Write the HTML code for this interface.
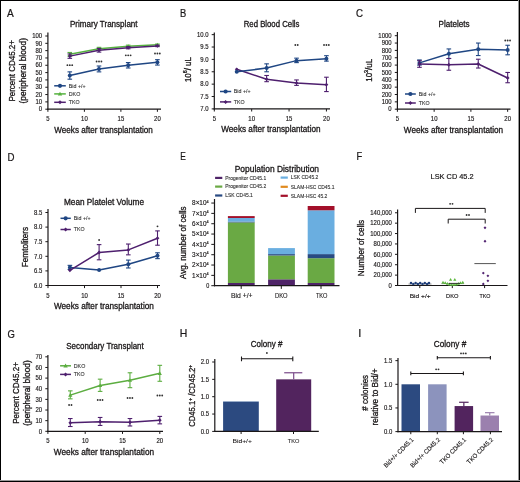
<!DOCTYPE html>
<html><head><meta charset="utf-8"><style>
html,body{margin:0;padding:0;background:#fff;}
body{width:520px;height:482px;overflow:hidden;position:relative;}
svg{will-change:transform;position:absolute;left:0;top:0;font-family:"Liberation Sans", sans-serif;}
</style></head><body>
<svg width="520" height="482" viewBox="0 0 520 482">
<rect x="0" y="0" width="520" height="482" fill="#fff"/>
<text x="7" y="17" font-size="11.0" text-anchor="start" fill="#1a1718" textLength="6.75" lengthAdjust="spacingAndGlyphs" stroke="#1a1718" stroke-width="0.22">A</text>
<text x="180" y="17" font-size="11.0" text-anchor="start" fill="#1a1718" textLength="6.24" lengthAdjust="spacingAndGlyphs" stroke="#1a1718" stroke-width="0.22">B</text>
<text x="356.1" y="16.8" font-size="11.0" text-anchor="start" fill="#1a1718" textLength="6.99" lengthAdjust="spacingAndGlyphs" stroke="#1a1718" stroke-width="0.22">C</text>
<text x="7.5" y="160.8" font-size="11.0" text-anchor="start" fill="#1a1718" textLength="6.99" lengthAdjust="spacingAndGlyphs" stroke="#1a1718" stroke-width="0.22">D</text>
<text x="180.2" y="160.3" font-size="11.0" text-anchor="start" fill="#1a1718" textLength="5.58" lengthAdjust="spacingAndGlyphs" stroke="#1a1718" stroke-width="0.22">E</text>
<text x="356.5" y="160.3" font-size="11.0" text-anchor="start" fill="#1a1718" textLength="5.71" lengthAdjust="spacingAndGlyphs" stroke="#1a1718" stroke-width="0.22">F</text>
<text x="7.5" y="337.5" font-size="11.0" text-anchor="start" fill="#1a1718" textLength="7.36" lengthAdjust="spacingAndGlyphs" stroke="#1a1718" stroke-width="0.22">G</text>
<text x="179.8" y="337.2" font-size="11.0" text-anchor="start" fill="#1a1718" textLength="7.55" lengthAdjust="spacingAndGlyphs" stroke="#1a1718" stroke-width="0.22">H</text>
<text x="358.3" y="337.2" font-size="11.0" text-anchor="start" fill="#1a1718" textLength="3.06" lengthAdjust="spacingAndGlyphs" stroke="#1a1718" stroke-width="0.22">I</text>
<text x="103.8" y="26.7584" font-size="8.6" text-anchor="middle" fill="#1a1718" textLength="67.6" lengthAdjust="spacingAndGlyphs" stroke="#1a1718" stroke-width="0.3">Primary Transplant</text>
<line x1="45.3" y1="109.2" x2="47.9" y2="109.2" stroke="#1a1718" stroke-width="1.0"/>
<text x="42.1" y="111.4016" font-size="6.4" text-anchor="end" fill="#1a1718" textLength="3.31" lengthAdjust="spacingAndGlyphs" stroke="#1a1718" stroke-width="0.15">0</text>
<line x1="45.3" y1="101.88" x2="47.9" y2="101.88" stroke="#1a1718" stroke-width="1.0"/>
<text x="42.1" y="104.0816" font-size="6.4" text-anchor="end" fill="#1a1718" textLength="6.62" lengthAdjust="spacingAndGlyphs" stroke="#1a1718" stroke-width="0.15">10</text>
<line x1="45.3" y1="94.56" x2="47.9" y2="94.56" stroke="#1a1718" stroke-width="1.0"/>
<text x="42.1" y="96.7616" font-size="6.4" text-anchor="end" fill="#1a1718" textLength="6.62" lengthAdjust="spacingAndGlyphs" stroke="#1a1718" stroke-width="0.15">20</text>
<line x1="45.3" y1="87.24000000000001" x2="47.9" y2="87.24000000000001" stroke="#1a1718" stroke-width="1.0"/>
<text x="42.1" y="89.44160000000001" font-size="6.4" text-anchor="end" fill="#1a1718" textLength="6.62" lengthAdjust="spacingAndGlyphs" stroke="#1a1718" stroke-width="0.15">30</text>
<line x1="45.3" y1="79.92" x2="47.9" y2="79.92" stroke="#1a1718" stroke-width="1.0"/>
<text x="42.1" y="82.1216" font-size="6.4" text-anchor="end" fill="#1a1718" textLength="6.62" lengthAdjust="spacingAndGlyphs" stroke="#1a1718" stroke-width="0.15">40</text>
<line x1="45.3" y1="72.6" x2="47.9" y2="72.6" stroke="#1a1718" stroke-width="1.0"/>
<text x="42.1" y="74.8016" font-size="6.4" text-anchor="end" fill="#1a1718" textLength="6.62" lengthAdjust="spacingAndGlyphs" stroke="#1a1718" stroke-width="0.15">50</text>
<line x1="45.3" y1="65.28" x2="47.9" y2="65.28" stroke="#1a1718" stroke-width="1.0"/>
<text x="42.1" y="67.4816" font-size="6.4" text-anchor="end" fill="#1a1718" textLength="6.62" lengthAdjust="spacingAndGlyphs" stroke="#1a1718" stroke-width="0.15">60</text>
<line x1="45.3" y1="57.96" x2="47.9" y2="57.96" stroke="#1a1718" stroke-width="1.0"/>
<text x="42.1" y="60.1616" font-size="6.4" text-anchor="end" fill="#1a1718" textLength="6.62" lengthAdjust="spacingAndGlyphs" stroke="#1a1718" stroke-width="0.15">70</text>
<line x1="45.3" y1="50.64" x2="47.9" y2="50.64" stroke="#1a1718" stroke-width="1.0"/>
<text x="42.1" y="52.8416" font-size="6.4" text-anchor="end" fill="#1a1718" textLength="6.62" lengthAdjust="spacingAndGlyphs" stroke="#1a1718" stroke-width="0.15">80</text>
<line x1="45.3" y1="43.32000000000001" x2="47.9" y2="43.32000000000001" stroke="#1a1718" stroke-width="1.0"/>
<text x="42.1" y="45.52160000000001" font-size="6.4" text-anchor="end" fill="#1a1718" textLength="6.62" lengthAdjust="spacingAndGlyphs" stroke="#1a1718" stroke-width="0.15">90</text>
<line x1="45.3" y1="36.0" x2="47.9" y2="36.0" stroke="#1a1718" stroke-width="1.0"/>
<text x="42.1" y="38.2016" font-size="6.4" text-anchor="end" fill="#1a1718" textLength="9.93" lengthAdjust="spacingAndGlyphs" stroke="#1a1718" stroke-width="0.15">100</text>
<line x1="47.9" y1="109.2" x2="47.9" y2="111.8" stroke="#1a1718" stroke-width="1.0"/>
<text x="47.9" y="121.2016" font-size="6.4" text-anchor="middle" fill="#1a1718" textLength="3.31" lengthAdjust="spacingAndGlyphs" stroke="#1a1718" stroke-width="0.15">5</text>
<line x1="84.4" y1="109.2" x2="84.4" y2="111.8" stroke="#1a1718" stroke-width="1.0"/>
<text x="84.4" y="121.2016" font-size="6.4" text-anchor="middle" fill="#1a1718" textLength="6.62" lengthAdjust="spacingAndGlyphs" stroke="#1a1718" stroke-width="0.15">10</text>
<line x1="120.9" y1="109.2" x2="120.9" y2="111.8" stroke="#1a1718" stroke-width="1.0"/>
<text x="120.9" y="121.2016" font-size="6.4" text-anchor="middle" fill="#1a1718" textLength="6.62" lengthAdjust="spacingAndGlyphs" stroke="#1a1718" stroke-width="0.15">15</text>
<line x1="157.4" y1="109.2" x2="157.4" y2="111.8" stroke="#1a1718" stroke-width="1.0"/>
<text x="157.4" y="121.2016" font-size="6.4" text-anchor="middle" fill="#1a1718" textLength="6.62" lengthAdjust="spacingAndGlyphs" stroke="#1a1718" stroke-width="0.15">20</text>
<line x1="47.9" y1="32.5" x2="47.9" y2="109.8" stroke="#1a1718" stroke-width="1.2"/>
<line x1="47.3" y1="109.2" x2="161" y2="109.2" stroke="#1a1718" stroke-width="1.2"/>
<text x="103.6" y="132.75" font-size="8.6" text-anchor="middle" fill="#1a1718" textLength="98.5" lengthAdjust="spacingAndGlyphs" stroke="#1a1718" stroke-width="0.3">Weeks after transplantation</text>
<text x="15.3" y="70.8" font-size="9.0" text-anchor="middle" fill="#1a1718" textLength="61.6" lengthAdjust="spacingAndGlyphs" transform="rotate(-90 15.3 70.8)" stroke="#1a1718" stroke-width="0.3">Percent CD45.2+</text>
<text x="26.2" y="70.8" font-size="8.6" text-anchor="middle" fill="#1a1718" textLength="65.5" lengthAdjust="spacingAndGlyphs" transform="rotate(-90 26.2 70.8)" stroke="#1a1718" stroke-width="0.3">(peripheral blood)</text>
<path d="M69.80 54.30 L99.00 48.81 L128.20 46.25 L157.40 44.78" stroke="#56b23f" stroke-width="1.5" fill="none" stroke-linejoin="round"/>
<line x1="69.8" y1="56.13" x2="69.8" y2="52.470000000000006" stroke="#56b23f" stroke-width="1.1"/>
<line x1="67.5" y1="56.13" x2="72.1" y2="56.13" stroke="#56b23f" stroke-width="1.1"/>
<line x1="67.5" y1="52.470000000000006" x2="72.1" y2="52.470000000000006" stroke="#56b23f" stroke-width="1.1"/>
<line x1="99.0" y1="50.274" x2="99.0" y2="47.346000000000004" stroke="#56b23f" stroke-width="1.1"/>
<line x1="96.7" y1="50.274" x2="101.3" y2="50.274" stroke="#56b23f" stroke-width="1.1"/>
<line x1="96.7" y1="47.346000000000004" x2="101.3" y2="47.346000000000004" stroke="#56b23f" stroke-width="1.1"/>
<line x1="128.2" y1="47.346000000000004" x2="128.2" y2="45.150000000000006" stroke="#56b23f" stroke-width="1.1"/>
<line x1="125.89999999999999" y1="47.346000000000004" x2="130.5" y2="47.346000000000004" stroke="#56b23f" stroke-width="1.1"/>
<line x1="125.89999999999999" y1="45.150000000000006" x2="130.5" y2="45.150000000000006" stroke="#56b23f" stroke-width="1.1"/>
<line x1="157.4" y1="45.516000000000005" x2="157.4" y2="44.05200000000001" stroke="#56b23f" stroke-width="1.1"/>
<line x1="155.1" y1="45.516000000000005" x2="159.70000000000002" y2="45.516000000000005" stroke="#56b23f" stroke-width="1.1"/>
<line x1="155.1" y1="44.05200000000001" x2="159.70000000000002" y2="44.05200000000001" stroke="#56b23f" stroke-width="1.1"/>
<path d="M69.8 52.2L71.89999999999999 55.87500000000001L67.7 55.87500000000001Z" fill="#56b23f"/>
<path d="M99.0 46.71L101.1 50.385000000000005L96.9 50.385000000000005Z" fill="#56b23f"/>
<path d="M128.2 44.148L130.29999999999998 47.82300000000001L126.1 47.82300000000001Z" fill="#56b23f"/>
<path d="M157.4 42.684000000000005L159.5 46.35900000000001L155.3 46.35900000000001Z" fill="#56b23f"/>
<path d="M69.80 56.13 L99.00 50.27 L128.20 47.71 L157.40 45.88" stroke="#4e1f6e" stroke-width="1.5" fill="none" stroke-linejoin="round"/>
<line x1="69.8" y1="58.326" x2="69.8" y2="53.934000000000005" stroke="#4e1f6e" stroke-width="1.1"/>
<line x1="67.5" y1="58.326" x2="72.1" y2="58.326" stroke="#4e1f6e" stroke-width="1.1"/>
<line x1="67.5" y1="53.934000000000005" x2="72.1" y2="53.934000000000005" stroke="#4e1f6e" stroke-width="1.1"/>
<line x1="99.0" y1="52.104000000000006" x2="99.0" y2="48.444" stroke="#4e1f6e" stroke-width="1.1"/>
<line x1="96.7" y1="52.104000000000006" x2="101.3" y2="52.104000000000006" stroke="#4e1f6e" stroke-width="1.1"/>
<line x1="96.7" y1="48.444" x2="101.3" y2="48.444" stroke="#4e1f6e" stroke-width="1.1"/>
<line x1="128.2" y1="48.81" x2="128.2" y2="46.614000000000004" stroke="#4e1f6e" stroke-width="1.1"/>
<line x1="125.89999999999999" y1="48.81" x2="130.5" y2="48.81" stroke="#4e1f6e" stroke-width="1.1"/>
<line x1="125.89999999999999" y1="46.614000000000004" x2="130.5" y2="46.614000000000004" stroke="#4e1f6e" stroke-width="1.1"/>
<line x1="157.4" y1="46.614000000000004" x2="157.4" y2="45.150000000000006" stroke="#4e1f6e" stroke-width="1.1"/>
<line x1="155.1" y1="46.614000000000004" x2="159.70000000000002" y2="46.614000000000004" stroke="#4e1f6e" stroke-width="1.1"/>
<line x1="155.1" y1="45.150000000000006" x2="159.70000000000002" y2="45.150000000000006" stroke="#4e1f6e" stroke-width="1.1"/>
<path d="M69.8 54.230000000000004L71.7 56.13L69.8 58.03L67.89999999999999 56.13Z" fill="#4e1f6e"/>
<path d="M99.0 48.374L100.9 50.274L99.0 52.174L97.1 50.274Z" fill="#4e1f6e"/>
<path d="M128.2 45.812000000000005L130.1 47.712L128.2 49.612L126.29999999999998 47.712Z" fill="#4e1f6e"/>
<path d="M157.4 43.982000000000006L159.3 45.882000000000005L157.4 47.782000000000004L155.5 45.882000000000005Z" fill="#4e1f6e"/>
<path d="M69.80 75.53 L99.00 68.94 L128.20 65.28 L157.40 62.35" stroke="#1f4683" stroke-width="1.5" fill="none" stroke-linejoin="round"/>
<line x1="69.8" y1="79.188" x2="69.8" y2="71.868" stroke="#1f4683" stroke-width="1.1"/>
<line x1="67.5" y1="79.188" x2="72.1" y2="79.188" stroke="#1f4683" stroke-width="1.1"/>
<line x1="67.5" y1="71.868" x2="72.1" y2="71.868" stroke="#1f4683" stroke-width="1.1"/>
<line x1="99.0" y1="71.868" x2="99.0" y2="66.012" stroke="#1f4683" stroke-width="1.1"/>
<line x1="96.7" y1="71.868" x2="101.3" y2="71.868" stroke="#1f4683" stroke-width="1.1"/>
<line x1="96.7" y1="66.012" x2="101.3" y2="66.012" stroke="#1f4683" stroke-width="1.1"/>
<line x1="128.2" y1="67.98840000000001" x2="128.2" y2="62.571600000000004" stroke="#1f4683" stroke-width="1.1"/>
<line x1="125.89999999999999" y1="67.98840000000001" x2="130.5" y2="67.98840000000001" stroke="#1f4683" stroke-width="1.1"/>
<line x1="125.89999999999999" y1="62.571600000000004" x2="130.5" y2="62.571600000000004" stroke="#1f4683" stroke-width="1.1"/>
<line x1="157.4" y1="65.06040000000002" x2="157.4" y2="59.6436" stroke="#1f4683" stroke-width="1.1"/>
<line x1="155.1" y1="65.06040000000002" x2="159.70000000000002" y2="65.06040000000002" stroke="#1f4683" stroke-width="1.1"/>
<line x1="155.1" y1="59.6436" x2="159.70000000000002" y2="59.6436" stroke="#1f4683" stroke-width="1.1"/>
<circle cx="69.8" cy="75.528" r="2.0" fill="#1f4683"/>
<circle cx="99.0" cy="68.94" r="2.0" fill="#1f4683"/>
<circle cx="128.2" cy="65.28" r="2.0" fill="#1f4683"/>
<circle cx="157.4" cy="62.352000000000004" r="2.0" fill="#1f4683"/>
<circle cx="67.4" cy="65.2" r="0.92" fill="#333"/>
<circle cx="69.8" cy="65.2" r="0.92" fill="#333"/>
<circle cx="72.2" cy="65.2" r="0.92" fill="#333"/>
<circle cx="96.6" cy="61.5" r="0.92" fill="#333"/>
<circle cx="99.0" cy="61.5" r="0.92" fill="#333"/>
<circle cx="101.4" cy="61.5" r="0.92" fill="#333"/>
<circle cx="125.8" cy="55.3" r="0.92" fill="#333"/>
<circle cx="128.2" cy="55.3" r="0.92" fill="#333"/>
<circle cx="130.6" cy="55.3" r="0.92" fill="#333"/>
<circle cx="155.0" cy="53.5" r="0.92" fill="#333"/>
<circle cx="157.4" cy="53.5" r="0.92" fill="#333"/>
<circle cx="159.8" cy="53.5" r="0.92" fill="#333"/>
<line x1="54.2" y1="85.8" x2="65.8" y2="85.8" stroke="#1f4683" stroke-width="1.5"/>
<circle cx="60.0" cy="85.8" r="2.1" fill="#1f4683"/>
<text x="68.8" y="87.69" font-size="5.4" text-anchor="start" fill="#333" textLength="16.77" lengthAdjust="spacingAndGlyphs" stroke="#333" stroke-width="0.1">Bid +/+</text>
<line x1="54.2" y1="93.9" x2="65.8" y2="93.9" stroke="#56b23f" stroke-width="1.5"/>
<path d="M60.0 91.69500000000001L62.205 95.55375000000001L57.795 95.55375000000001Z" fill="#56b23f"/>
<text x="68.8" y="95.79" font-size="5.4" text-anchor="start" fill="#333" textLength="11.47" lengthAdjust="spacingAndGlyphs" stroke="#333" stroke-width="0.1">DKO</text>
<line x1="54.2" y1="102.3" x2="65.8" y2="102.3" stroke="#4e1f6e" stroke-width="1.5"/>
<path d="M60.0 100.30499999999999L61.995 102.3L60.0 104.295L58.005 102.3Z" fill="#4e1f6e"/>
<text x="68.8" y="104.19" font-size="5.4" text-anchor="start" fill="#333" textLength="10.88" lengthAdjust="spacingAndGlyphs" stroke="#333" stroke-width="0.1">TKO</text>
<text x="271.6" y="27.4584" font-size="8.6" text-anchor="middle" fill="#1a1718" textLength="55.8" lengthAdjust="spacingAndGlyphs" stroke="#1a1718" stroke-width="0.3">Red Blood Cells</text>
<line x1="211.70000000000002" y1="108.9" x2="214.3" y2="108.9" stroke="#1a1718" stroke-width="1.0"/>
<text x="208.5" y="111.1016" font-size="6.4" text-anchor="end" fill="#1a1718" textLength="8.27" lengthAdjust="spacingAndGlyphs" stroke="#1a1718" stroke-width="0.15">7.0</text>
<line x1="211.70000000000002" y1="96.525" x2="214.3" y2="96.525" stroke="#1a1718" stroke-width="1.0"/>
<text x="208.5" y="98.7266" font-size="6.4" text-anchor="end" fill="#1a1718" textLength="8.27" lengthAdjust="spacingAndGlyphs" stroke="#1a1718" stroke-width="0.15">7.5</text>
<line x1="211.70000000000002" y1="84.15" x2="214.3" y2="84.15" stroke="#1a1718" stroke-width="1.0"/>
<text x="208.5" y="86.3516" font-size="6.4" text-anchor="end" fill="#1a1718" textLength="8.27" lengthAdjust="spacingAndGlyphs" stroke="#1a1718" stroke-width="0.15">8.0</text>
<line x1="211.70000000000002" y1="71.775" x2="214.3" y2="71.775" stroke="#1a1718" stroke-width="1.0"/>
<text x="208.5" y="73.9766" font-size="6.4" text-anchor="end" fill="#1a1718" textLength="8.27" lengthAdjust="spacingAndGlyphs" stroke="#1a1718" stroke-width="0.15">8.5</text>
<line x1="211.70000000000002" y1="59.400000000000006" x2="214.3" y2="59.400000000000006" stroke="#1a1718" stroke-width="1.0"/>
<text x="208.5" y="61.601600000000005" font-size="6.4" text-anchor="end" fill="#1a1718" textLength="8.27" lengthAdjust="spacingAndGlyphs" stroke="#1a1718" stroke-width="0.15">9.0</text>
<line x1="211.70000000000002" y1="47.025000000000006" x2="214.3" y2="47.025000000000006" stroke="#1a1718" stroke-width="1.0"/>
<text x="208.5" y="49.226600000000005" font-size="6.4" text-anchor="end" fill="#1a1718" textLength="8.27" lengthAdjust="spacingAndGlyphs" stroke="#1a1718" stroke-width="0.15">9.5</text>
<line x1="211.70000000000002" y1="34.650000000000006" x2="214.3" y2="34.650000000000006" stroke="#1a1718" stroke-width="1.0"/>
<text x="208.5" y="36.851600000000005" font-size="6.4" text-anchor="end" fill="#1a1718" textLength="11.58" lengthAdjust="spacingAndGlyphs" stroke="#1a1718" stroke-width="0.15">10.0</text>
<line x1="214.3" y1="108.9" x2="214.3" y2="111.5" stroke="#1a1718" stroke-width="1.0"/>
<text x="214.3" y="120.9016" font-size="6.4" text-anchor="middle" fill="#1a1718" textLength="3.31" lengthAdjust="spacingAndGlyphs" stroke="#1a1718" stroke-width="0.15">5</text>
<line x1="251.675" y1="108.9" x2="251.675" y2="111.5" stroke="#1a1718" stroke-width="1.0"/>
<text x="251.675" y="120.9016" font-size="6.4" text-anchor="middle" fill="#1a1718" textLength="6.62" lengthAdjust="spacingAndGlyphs" stroke="#1a1718" stroke-width="0.15">10</text>
<line x1="289.05" y1="108.9" x2="289.05" y2="111.5" stroke="#1a1718" stroke-width="1.0"/>
<text x="289.05" y="120.9016" font-size="6.4" text-anchor="middle" fill="#1a1718" textLength="6.62" lengthAdjust="spacingAndGlyphs" stroke="#1a1718" stroke-width="0.15">15</text>
<line x1="326.425" y1="108.9" x2="326.425" y2="111.5" stroke="#1a1718" stroke-width="1.0"/>
<text x="326.425" y="120.9016" font-size="6.4" text-anchor="middle" fill="#1a1718" textLength="6.62" lengthAdjust="spacingAndGlyphs" stroke="#1a1718" stroke-width="0.15">20</text>
<line x1="214.3" y1="32.5" x2="214.3" y2="109.5" stroke="#1a1718" stroke-width="1.2"/>
<line x1="213.70000000000002" y1="108.9" x2="330" y2="108.9" stroke="#1a1718" stroke-width="1.2"/>
<text x="270.9" y="132.45" font-size="8.6" text-anchor="middle" fill="#1a1718" textLength="99.3" lengthAdjust="spacingAndGlyphs" stroke="#1a1718" stroke-width="0.3">Weeks after transplantation</text>
<text x="190.6" y="69.6" font-size="8.6" text-anchor="middle" fill="#1a1718" textLength="25" lengthAdjust="spacingAndGlyphs" transform="rotate(-90 190.6 69.6)" stroke="#1a1718" stroke-width="0.3">10<tspan font-size="5.8" dy="-3.9">6</tspan><tspan dy="3.9">/ uL</tspan></text>
<path d="M236.73 69.30 L266.62 79.20 L296.52 82.91 L326.43 84.64" stroke="#4e1f6e" stroke-width="1.5" fill="none" stroke-linejoin="round"/>
<line x1="266.625" y1="81.67500000000001" x2="266.625" y2="75.48750000000001" stroke="#4e1f6e" stroke-width="1.1"/>
<line x1="264.325" y1="81.67500000000001" x2="268.925" y2="81.67500000000001" stroke="#4e1f6e" stroke-width="1.1"/>
<line x1="264.325" y1="75.48750000000001" x2="268.925" y2="75.48750000000001" stroke="#4e1f6e" stroke-width="1.1"/>
<line x1="296.525" y1="85.3875" x2="296.525" y2="79.94250000000001" stroke="#4e1f6e" stroke-width="1.1"/>
<line x1="294.22499999999997" y1="85.3875" x2="298.825" y2="85.3875" stroke="#4e1f6e" stroke-width="1.1"/>
<line x1="294.22499999999997" y1="79.94250000000001" x2="298.825" y2="79.94250000000001" stroke="#4e1f6e" stroke-width="1.1"/>
<line x1="326.425" y1="91.575" x2="326.425" y2="77.22000000000003" stroke="#4e1f6e" stroke-width="1.1"/>
<line x1="324.125" y1="91.575" x2="328.725" y2="91.575" stroke="#4e1f6e" stroke-width="1.1"/>
<line x1="324.125" y1="77.22000000000003" x2="328.725" y2="77.22000000000003" stroke="#4e1f6e" stroke-width="1.1"/>
<path d="M236.72500000000002 67.4L238.62500000000003 69.30000000000001L236.72500000000002 71.20000000000002L234.82500000000002 69.30000000000001Z" fill="#4e1f6e"/>
<path d="M266.625 77.30000000000001L268.525 79.20000000000002L266.625 81.10000000000002L264.725 79.20000000000002Z" fill="#4e1f6e"/>
<path d="M296.525 81.01249999999999L298.42499999999995 82.9125L296.525 84.8125L294.625 82.9125Z" fill="#4e1f6e"/>
<path d="M326.425 82.74499999999999L328.325 84.645L326.425 86.545L324.52500000000003 84.645Z" fill="#4e1f6e"/>
<path d="M236.73 71.78 L266.62 68.06 L296.52 60.64 L326.43 58.66" stroke="#1f4683" stroke-width="1.5" fill="none" stroke-linejoin="round"/>
<line x1="266.625" y1="71.775" x2="266.625" y2="63.855" stroke="#1f4683" stroke-width="1.1"/>
<line x1="264.325" y1="71.775" x2="268.925" y2="71.775" stroke="#1f4683" stroke-width="1.1"/>
<line x1="264.325" y1="63.855" x2="268.925" y2="63.855" stroke="#1f4683" stroke-width="1.1"/>
<line x1="296.525" y1="62.61750000000003" x2="296.525" y2="58.16249999999999" stroke="#1f4683" stroke-width="1.1"/>
<line x1="294.22499999999997" y1="62.61750000000003" x2="298.825" y2="62.61750000000003" stroke="#1f4683" stroke-width="1.1"/>
<line x1="294.22499999999997" y1="58.16249999999999" x2="298.825" y2="58.16249999999999" stroke="#1f4683" stroke-width="1.1"/>
<line x1="326.425" y1="61.132500000000014" x2="326.425" y2="55.6875" stroke="#1f4683" stroke-width="1.1"/>
<line x1="324.125" y1="61.132500000000014" x2="328.725" y2="61.132500000000014" stroke="#1f4683" stroke-width="1.1"/>
<line x1="324.125" y1="55.6875" x2="328.725" y2="55.6875" stroke="#1f4683" stroke-width="1.1"/>
<circle cx="236.72500000000002" cy="71.775" r="2.0" fill="#1f4683"/>
<circle cx="266.625" cy="68.0625" r="2.0" fill="#1f4683"/>
<circle cx="296.525" cy="60.637500000000024" r="2.0" fill="#1f4683"/>
<circle cx="326.425" cy="58.65750000000002" r="2.0" fill="#1f4683"/>
<circle cx="295.32" cy="45" r="0.92" fill="#333"/>
<circle cx="297.72" cy="45" r="0.92" fill="#333"/>
<circle cx="324.03" cy="45" r="0.92" fill="#333"/>
<circle cx="326.43" cy="45" r="0.92" fill="#333"/>
<circle cx="328.82" cy="45" r="0.92" fill="#333"/>
<line x1="220" y1="91.5" x2="231.2" y2="91.5" stroke="#1f4683" stroke-width="1.5"/>
<circle cx="225.6" cy="91.5" r="2.1" fill="#1f4683"/>
<text x="233.8" y="93.39" font-size="5.4" text-anchor="start" fill="#333" textLength="16.77" lengthAdjust="spacingAndGlyphs" stroke="#333" stroke-width="0.1">Bid +/+</text>
<line x1="220" y1="101.9" x2="231.2" y2="101.9" stroke="#4e1f6e" stroke-width="1.5"/>
<path d="M225.6 99.905L227.595 101.9L225.6 103.89500000000001L223.605 101.9Z" fill="#4e1f6e"/>
<text x="233.8" y="103.79" font-size="5.4" text-anchor="start" fill="#333" textLength="10.88" lengthAdjust="spacingAndGlyphs" stroke="#333" stroke-width="0.1">TKO</text>
<text x="454" y="27.1584" font-size="8.6" text-anchor="middle" fill="#1a1718" textLength="31" lengthAdjust="spacingAndGlyphs" stroke="#1a1718" stroke-width="0.3">Platelets</text>
<line x1="394.79999999999995" y1="109.2" x2="397.4" y2="109.2" stroke="#1a1718" stroke-width="1.0"/>
<text x="391.59999999999997" y="111.4016" font-size="6.4" text-anchor="end" fill="#1a1718" textLength="3.31" lengthAdjust="spacingAndGlyphs" stroke="#1a1718" stroke-width="0.15">0</text>
<line x1="394.79999999999995" y1="101.85000000000001" x2="397.4" y2="101.85000000000001" stroke="#1a1718" stroke-width="1.0"/>
<text x="391.59999999999997" y="104.05160000000001" font-size="6.4" text-anchor="end" fill="#1a1718" textLength="9.93" lengthAdjust="spacingAndGlyphs" stroke="#1a1718" stroke-width="0.15">100</text>
<line x1="394.79999999999995" y1="94.5" x2="397.4" y2="94.5" stroke="#1a1718" stroke-width="1.0"/>
<text x="391.59999999999997" y="96.7016" font-size="6.4" text-anchor="end" fill="#1a1718" textLength="9.93" lengthAdjust="spacingAndGlyphs" stroke="#1a1718" stroke-width="0.15">200</text>
<line x1="394.79999999999995" y1="87.15" x2="397.4" y2="87.15" stroke="#1a1718" stroke-width="1.0"/>
<text x="391.59999999999997" y="89.3516" font-size="6.4" text-anchor="end" fill="#1a1718" textLength="9.93" lengthAdjust="spacingAndGlyphs" stroke="#1a1718" stroke-width="0.15">300</text>
<line x1="394.79999999999995" y1="79.80000000000001" x2="397.4" y2="79.80000000000001" stroke="#1a1718" stroke-width="1.0"/>
<text x="391.59999999999997" y="82.00160000000001" font-size="6.4" text-anchor="end" fill="#1a1718" textLength="9.93" lengthAdjust="spacingAndGlyphs" stroke="#1a1718" stroke-width="0.15">400</text>
<line x1="394.79999999999995" y1="72.45" x2="397.4" y2="72.45" stroke="#1a1718" stroke-width="1.0"/>
<text x="391.59999999999997" y="74.6516" font-size="6.4" text-anchor="end" fill="#1a1718" textLength="9.93" lengthAdjust="spacingAndGlyphs" stroke="#1a1718" stroke-width="0.15">500</text>
<line x1="394.79999999999995" y1="65.10000000000001" x2="397.4" y2="65.10000000000001" stroke="#1a1718" stroke-width="1.0"/>
<text x="391.59999999999997" y="67.30160000000001" font-size="6.4" text-anchor="end" fill="#1a1718" textLength="9.93" lengthAdjust="spacingAndGlyphs" stroke="#1a1718" stroke-width="0.15">600</text>
<line x1="394.79999999999995" y1="57.75000000000001" x2="397.4" y2="57.75000000000001" stroke="#1a1718" stroke-width="1.0"/>
<text x="391.59999999999997" y="59.951600000000006" font-size="6.4" text-anchor="end" fill="#1a1718" textLength="9.93" lengthAdjust="spacingAndGlyphs" stroke="#1a1718" stroke-width="0.15">700</text>
<line x1="394.79999999999995" y1="50.400000000000006" x2="397.4" y2="50.400000000000006" stroke="#1a1718" stroke-width="1.0"/>
<text x="391.59999999999997" y="52.601600000000005" font-size="6.4" text-anchor="end" fill="#1a1718" textLength="9.93" lengthAdjust="spacingAndGlyphs" stroke="#1a1718" stroke-width="0.15">800</text>
<line x1="394.79999999999995" y1="43.05000000000001" x2="397.4" y2="43.05000000000001" stroke="#1a1718" stroke-width="1.0"/>
<text x="391.59999999999997" y="45.25160000000001" font-size="6.4" text-anchor="end" fill="#1a1718" textLength="9.93" lengthAdjust="spacingAndGlyphs" stroke="#1a1718" stroke-width="0.15">900</text>
<line x1="394.79999999999995" y1="35.7" x2="397.4" y2="35.7" stroke="#1a1718" stroke-width="1.0"/>
<text x="391.59999999999997" y="37.9016" font-size="6.4" text-anchor="end" fill="#1a1718" textLength="13.24" lengthAdjust="spacingAndGlyphs" stroke="#1a1718" stroke-width="0.15">1000</text>
<line x1="397.4" y1="109.2" x2="397.4" y2="111.8" stroke="#1a1718" stroke-width="1.0"/>
<text x="397.4" y="121.2016" font-size="6.4" text-anchor="middle" fill="#1a1718" textLength="3.31" lengthAdjust="spacingAndGlyphs" stroke="#1a1718" stroke-width="0.15">5</text>
<line x1="434.15" y1="109.2" x2="434.15" y2="111.8" stroke="#1a1718" stroke-width="1.0"/>
<text x="434.15" y="121.2016" font-size="6.4" text-anchor="middle" fill="#1a1718" textLength="6.62" lengthAdjust="spacingAndGlyphs" stroke="#1a1718" stroke-width="0.15">10</text>
<line x1="470.9" y1="109.2" x2="470.9" y2="111.8" stroke="#1a1718" stroke-width="1.0"/>
<text x="470.9" y="121.2016" font-size="6.4" text-anchor="middle" fill="#1a1718" textLength="6.62" lengthAdjust="spacingAndGlyphs" stroke="#1a1718" stroke-width="0.15">15</text>
<line x1="507.65" y1="109.2" x2="507.65" y2="111.8" stroke="#1a1718" stroke-width="1.0"/>
<text x="507.65" y="121.2016" font-size="6.4" text-anchor="middle" fill="#1a1718" textLength="6.62" lengthAdjust="spacingAndGlyphs" stroke="#1a1718" stroke-width="0.15">20</text>
<line x1="397.4" y1="32.1" x2="397.4" y2="109.8" stroke="#1a1718" stroke-width="1.2"/>
<line x1="396.79999999999995" y1="109.2" x2="510.5" y2="109.2" stroke="#1a1718" stroke-width="1.2"/>
<text x="453.5" y="132.75" font-size="8.6" text-anchor="middle" fill="#1a1718" textLength="99.3" lengthAdjust="spacingAndGlyphs" stroke="#1a1718" stroke-width="0.3">Weeks after transplantation</text>
<text x="372.1" y="70.3" font-size="8.6" text-anchor="middle" fill="#1a1718" textLength="22.9" lengthAdjust="spacingAndGlyphs" transform="rotate(-90 372.1 70.3)" stroke="#1a1718" stroke-width="0.3">10<tspan font-size="5.8" dy="-3.9">3</tspan><tspan dy="3.9">/uL</tspan></text>
<path d="M419.45 62.90 L448.85 53.78 L478.25 49.30 L507.65 50.03" stroke="#1f4683" stroke-width="1.5" fill="none" stroke-linejoin="round"/>
<line x1="419.45" y1="65.10000000000001" x2="419.45" y2="59.955000000000005" stroke="#1f4683" stroke-width="1.1"/>
<line x1="417.15" y1="65.10000000000001" x2="421.75" y2="65.10000000000001" stroke="#1f4683" stroke-width="1.1"/>
<line x1="417.15" y1="59.955000000000005" x2="421.75" y2="59.955000000000005" stroke="#1f4683" stroke-width="1.1"/>
<line x1="448.84999999999997" y1="58.48500000000001" x2="448.84999999999997" y2="48.93000000000001" stroke="#1f4683" stroke-width="1.1"/>
<line x1="446.54999999999995" y1="58.48500000000001" x2="451.15" y2="58.48500000000001" stroke="#1f4683" stroke-width="1.1"/>
<line x1="446.54999999999995" y1="48.93000000000001" x2="451.15" y2="48.93000000000001" stroke="#1f4683" stroke-width="1.1"/>
<line x1="478.25" y1="55.54500000000001" x2="478.25" y2="43.05000000000001" stroke="#1f4683" stroke-width="1.1"/>
<line x1="475.95" y1="55.54500000000001" x2="480.55" y2="55.54500000000001" stroke="#1f4683" stroke-width="1.1"/>
<line x1="475.95" y1="43.05000000000001" x2="480.55" y2="43.05000000000001" stroke="#1f4683" stroke-width="1.1"/>
<line x1="507.65" y1="54.81000000000001" x2="507.65" y2="45.25500000000001" stroke="#1f4683" stroke-width="1.1"/>
<line x1="505.34999999999997" y1="54.81000000000001" x2="509.95" y2="54.81000000000001" stroke="#1f4683" stroke-width="1.1"/>
<line x1="505.34999999999997" y1="45.25500000000001" x2="509.95" y2="45.25500000000001" stroke="#1f4683" stroke-width="1.1"/>
<circle cx="419.45" cy="62.895" r="2.0" fill="#1f4683"/>
<circle cx="448.84999999999997" cy="53.781000000000006" r="2.0" fill="#1f4683"/>
<circle cx="478.25" cy="49.29750000000001" r="2.0" fill="#1f4683"/>
<circle cx="507.65" cy="50.032500000000006" r="2.0" fill="#1f4683"/>
<path d="M419.45 64.00 L448.85 64.73 L478.25 64.00 L507.65 77.96" stroke="#4e1f6e" stroke-width="1.5" fill="none" stroke-linejoin="round"/>
<line x1="419.45" y1="67.305" x2="419.45" y2="60.690000000000005" stroke="#4e1f6e" stroke-width="1.1"/>
<line x1="417.15" y1="67.305" x2="421.75" y2="67.305" stroke="#4e1f6e" stroke-width="1.1"/>
<line x1="417.15" y1="60.690000000000005" x2="421.75" y2="60.690000000000005" stroke="#4e1f6e" stroke-width="1.1"/>
<line x1="448.84999999999997" y1="70.245" x2="448.84999999999997" y2="58.48500000000001" stroke="#4e1f6e" stroke-width="1.1"/>
<line x1="446.54999999999995" y1="70.245" x2="451.15" y2="70.245" stroke="#4e1f6e" stroke-width="1.1"/>
<line x1="446.54999999999995" y1="58.48500000000001" x2="451.15" y2="58.48500000000001" stroke="#4e1f6e" stroke-width="1.1"/>
<line x1="478.25" y1="68.04" x2="478.25" y2="59.220000000000006" stroke="#4e1f6e" stroke-width="1.1"/>
<line x1="475.95" y1="68.04" x2="480.55" y2="68.04" stroke="#4e1f6e" stroke-width="1.1"/>
<line x1="475.95" y1="59.220000000000006" x2="480.55" y2="59.220000000000006" stroke="#4e1f6e" stroke-width="1.1"/>
<line x1="507.65" y1="82.74000000000001" x2="507.65" y2="72.45" stroke="#4e1f6e" stroke-width="1.1"/>
<line x1="505.34999999999997" y1="82.74000000000001" x2="509.95" y2="82.74000000000001" stroke="#4e1f6e" stroke-width="1.1"/>
<line x1="505.34999999999997" y1="72.45" x2="509.95" y2="72.45" stroke="#4e1f6e" stroke-width="1.1"/>
<path d="M419.45 62.097500000000004L421.34999999999997 63.9975L419.45 65.89750000000001L417.55 63.9975Z" fill="#4e1f6e"/>
<path d="M448.84999999999997 62.83250000000002L450.74999999999994 64.73250000000002L448.84999999999997 66.63250000000002L446.95 64.73250000000002Z" fill="#4e1f6e"/>
<path d="M478.25 62.097500000000004L480.15 63.9975L478.25 65.89750000000001L476.35 63.9975Z" fill="#4e1f6e"/>
<path d="M507.65 76.0625L509.54999999999995 77.9625L507.65 79.86250000000001L505.75 77.9625Z" fill="#4e1f6e"/>
<circle cx="505.25" cy="40.5" r="0.92" fill="#333"/>
<circle cx="507.65" cy="40.5" r="0.92" fill="#333"/>
<circle cx="510.05" cy="40.5" r="0.92" fill="#333"/>
<line x1="405" y1="94" x2="415.8" y2="94" stroke="#1f4683" stroke-width="1.5"/>
<circle cx="410.4" cy="94" r="2.1" fill="#1f4683"/>
<text x="418.8" y="95.89" font-size="5.4" text-anchor="start" fill="#333" textLength="16.77" lengthAdjust="spacingAndGlyphs" stroke="#333" stroke-width="0.1">Bid +/+</text>
<line x1="405" y1="103" x2="415.8" y2="103" stroke="#4e1f6e" stroke-width="1.5"/>
<path d="M410.4 101.005L412.395 103L410.4 104.995L408.405 103Z" fill="#4e1f6e"/>
<text x="418.8" y="104.89" font-size="5.4" text-anchor="start" fill="#333" textLength="10.88" lengthAdjust="spacingAndGlyphs" stroke="#333" stroke-width="0.1">TKO</text>
<text x="104" y="205.25840000000002" font-size="8.6" text-anchor="middle" fill="#1a1718" textLength="80" lengthAdjust="spacingAndGlyphs" stroke="#1a1718" stroke-width="0.3">Mean Platelet Volume</text>
<line x1="45.4" y1="285.5" x2="48" y2="285.5" stroke="#1a1718" stroke-width="1.0"/>
<text x="42.2" y="287.7016" font-size="6.4" text-anchor="end" fill="#1a1718" textLength="8.27" lengthAdjust="spacingAndGlyphs" stroke="#1a1718" stroke-width="0.15">6.0</text>
<line x1="45.4" y1="270.9" x2="48" y2="270.9" stroke="#1a1718" stroke-width="1.0"/>
<text x="42.2" y="273.10159999999996" font-size="6.4" text-anchor="end" fill="#1a1718" textLength="8.27" lengthAdjust="spacingAndGlyphs" stroke="#1a1718" stroke-width="0.15">6.5</text>
<line x1="45.4" y1="256.3" x2="48" y2="256.3" stroke="#1a1718" stroke-width="1.0"/>
<text x="42.2" y="258.5016" font-size="6.4" text-anchor="end" fill="#1a1718" textLength="8.27" lengthAdjust="spacingAndGlyphs" stroke="#1a1718" stroke-width="0.15">7.0</text>
<line x1="45.4" y1="241.7" x2="48" y2="241.7" stroke="#1a1718" stroke-width="1.0"/>
<text x="42.2" y="243.9016" font-size="6.4" text-anchor="end" fill="#1a1718" textLength="8.27" lengthAdjust="spacingAndGlyphs" stroke="#1a1718" stroke-width="0.15">7.5</text>
<line x1="45.4" y1="227.1" x2="48" y2="227.1" stroke="#1a1718" stroke-width="1.0"/>
<text x="42.2" y="229.3016" font-size="6.4" text-anchor="end" fill="#1a1718" textLength="8.27" lengthAdjust="spacingAndGlyphs" stroke="#1a1718" stroke-width="0.15">8.0</text>
<line x1="45.4" y1="212.5" x2="48" y2="212.5" stroke="#1a1718" stroke-width="1.0"/>
<text x="42.2" y="214.7016" font-size="6.4" text-anchor="end" fill="#1a1718" textLength="8.27" lengthAdjust="spacingAndGlyphs" stroke="#1a1718" stroke-width="0.15">8.5</text>
<line x1="48.0" y1="285.5" x2="48.0" y2="288.1" stroke="#1a1718" stroke-width="1.0"/>
<text x="48.0" y="297.5016" font-size="6.4" text-anchor="middle" fill="#1a1718" textLength="3.31" lengthAdjust="spacingAndGlyphs" stroke="#1a1718" stroke-width="0.15">5</text>
<line x1="84.5" y1="285.5" x2="84.5" y2="288.1" stroke="#1a1718" stroke-width="1.0"/>
<text x="84.5" y="297.5016" font-size="6.4" text-anchor="middle" fill="#1a1718" textLength="6.62" lengthAdjust="spacingAndGlyphs" stroke="#1a1718" stroke-width="0.15">10</text>
<line x1="121.0" y1="285.5" x2="121.0" y2="288.1" stroke="#1a1718" stroke-width="1.0"/>
<text x="121.0" y="297.5016" font-size="6.4" text-anchor="middle" fill="#1a1718" textLength="6.62" lengthAdjust="spacingAndGlyphs" stroke="#1a1718" stroke-width="0.15">15</text>
<line x1="157.5" y1="285.5" x2="157.5" y2="288.1" stroke="#1a1718" stroke-width="1.0"/>
<text x="157.5" y="297.5016" font-size="6.4" text-anchor="middle" fill="#1a1718" textLength="6.62" lengthAdjust="spacingAndGlyphs" stroke="#1a1718" stroke-width="0.15">20</text>
<line x1="48" y1="209" x2="48" y2="286.1" stroke="#1a1718" stroke-width="1.2"/>
<line x1="47.4" y1="285.5" x2="160" y2="285.5" stroke="#1a1718" stroke-width="1.2"/>
<text x="103.9" y="309.05" font-size="8.6" text-anchor="middle" fill="#1a1718" textLength="100" lengthAdjust="spacingAndGlyphs" stroke="#1a1718" stroke-width="0.3">Weeks after transplantation</text>
<text x="28.3" y="247" font-size="8.6" text-anchor="middle" fill="#1a1718" textLength="40.3" lengthAdjust="spacingAndGlyphs" transform="rotate(-90 28.3 247)" stroke="#1a1718" stroke-width="0.3">Femtoliters</text>
<path d="M69.90 267.40 L99.10 270.02 L128.30 264.18 L157.50 255.72" stroke="#1f4683" stroke-width="1.5" fill="none" stroke-linejoin="round"/>
<line x1="69.9" y1="269.44" x2="69.9" y2="265.352" stroke="#1f4683" stroke-width="1.1"/>
<line x1="67.60000000000001" y1="269.44" x2="72.2" y2="269.44" stroke="#1f4683" stroke-width="1.1"/>
<line x1="67.60000000000001" y1="265.352" x2="72.2" y2="265.352" stroke="#1f4683" stroke-width="1.1"/>
<line x1="128.3" y1="267.98" x2="128.3" y2="260.096" stroke="#1f4683" stroke-width="1.1"/>
<line x1="126.00000000000001" y1="267.98" x2="130.60000000000002" y2="267.98" stroke="#1f4683" stroke-width="1.1"/>
<line x1="126.00000000000001" y1="260.096" x2="130.60000000000002" y2="260.096" stroke="#1f4683" stroke-width="1.1"/>
<line x1="157.5" y1="258.636" x2="157.5" y2="252.796" stroke="#1f4683" stroke-width="1.1"/>
<line x1="155.2" y1="258.636" x2="159.8" y2="258.636" stroke="#1f4683" stroke-width="1.1"/>
<line x1="155.2" y1="252.796" x2="159.8" y2="252.796" stroke="#1f4683" stroke-width="1.1"/>
<circle cx="69.9" cy="267.396" r="2.0" fill="#1f4683"/>
<circle cx="99.1" cy="270.024" r="2.0" fill="#1f4683"/>
<circle cx="128.3" cy="264.18399999999997" r="2.0" fill="#1f4683"/>
<circle cx="157.5" cy="255.716" r="2.0" fill="#1f4683"/>
<path d="M69.90 270.32 L99.10 252.50 L128.30 249.88 L157.50 238.20" stroke="#4e1f6e" stroke-width="1.5" fill="none" stroke-linejoin="round"/>
<line x1="99.1" y1="259.804" x2="99.1" y2="244.62" stroke="#4e1f6e" stroke-width="1.1"/>
<line x1="96.8" y1="259.804" x2="101.39999999999999" y2="259.804" stroke="#4e1f6e" stroke-width="1.1"/>
<line x1="96.8" y1="244.62" x2="101.39999999999999" y2="244.62" stroke="#4e1f6e" stroke-width="1.1"/>
<line x1="128.3" y1="254.84" x2="128.3" y2="244.036" stroke="#4e1f6e" stroke-width="1.1"/>
<line x1="126.00000000000001" y1="254.84" x2="130.60000000000002" y2="254.84" stroke="#4e1f6e" stroke-width="1.1"/>
<line x1="126.00000000000001" y1="244.036" x2="130.60000000000002" y2="244.036" stroke="#4e1f6e" stroke-width="1.1"/>
<line x1="157.5" y1="245.204" x2="157.5" y2="230.89600000000002" stroke="#4e1f6e" stroke-width="1.1"/>
<line x1="155.2" y1="245.204" x2="159.8" y2="245.204" stroke="#4e1f6e" stroke-width="1.1"/>
<line x1="155.2" y1="230.89600000000002" x2="159.8" y2="230.89600000000002" stroke="#4e1f6e" stroke-width="1.1"/>
<path d="M69.9 268.41600000000005L71.80000000000001 270.31600000000003L69.9 272.216L68.0 270.31600000000003Z" fill="#4e1f6e"/>
<path d="M99.1 250.604L101.0 252.50400000000002L99.1 254.40400000000002L97.19999999999999 252.50400000000002Z" fill="#4e1f6e"/>
<path d="M128.3 247.976L130.20000000000002 249.876L128.3 251.776L126.4 249.876Z" fill="#4e1f6e"/>
<path d="M157.5 236.296L159.4 238.196L157.5 240.096L155.6 238.196Z" fill="#4e1f6e"/>
<circle cx="99.1" cy="240" r="0.92" fill="#333"/>
<circle cx="157.5" cy="226.3" r="0.92" fill="#333"/>
<line x1="60.5" y1="218.3" x2="70.8" y2="218.3" stroke="#1f4683" stroke-width="1.5"/>
<circle cx="65.65" cy="218.3" r="2.1" fill="#1f4683"/>
<text x="73.8" y="220.19" font-size="5.4" text-anchor="start" fill="#333" textLength="16.77" lengthAdjust="spacingAndGlyphs" stroke="#333" stroke-width="0.1">Bid +/+</text>
<line x1="60.5" y1="229.5" x2="70.8" y2="229.5" stroke="#4e1f6e" stroke-width="1.5"/>
<path d="M65.65 227.505L67.64500000000001 229.5L65.65 231.495L63.65500000000001 229.5Z" fill="#4e1f6e"/>
<text x="73.8" y="231.39" font-size="5.4" text-anchor="start" fill="#333" textLength="10.88" lengthAdjust="spacingAndGlyphs" stroke="#333" stroke-width="0.1">TKO</text>
<text x="276.9" y="172.1584" font-size="8.6" text-anchor="middle" fill="#1a1718" textLength="84.3" lengthAdjust="spacingAndGlyphs" stroke="#1a1718" stroke-width="0.3">Population Distribution</text>
<rect x="215.1" y="176.8" width="7.2" height="2.2" fill="#4f2468"/>
<text x="225.29999999999998" y="179.70000000000002" font-size="5.2" text-anchor="start" fill="#333" textLength="40.92" lengthAdjust="spacingAndGlyphs" stroke="#333" stroke-width="0.12">Progenitor CD45.1</text>
<rect x="215.1" y="185.5" width="7.2" height="2.2" fill="#6aa944"/>
<text x="225.29999999999998" y="188.4" font-size="5.2" text-anchor="start" fill="#333" textLength="40.92" lengthAdjust="spacingAndGlyphs" stroke="#333" stroke-width="0.12">Progenitor CD45.2</text>
<rect x="215.1" y="194.4" width="7.2" height="2.2" fill="#284a82"/>
<text x="225.29999999999998" y="197.3" font-size="5.2" text-anchor="start" fill="#333" textLength="27.46" lengthAdjust="spacingAndGlyphs" stroke="#333" stroke-width="0.12">LSK CD45.1</text>
<rect x="280.6" y="176.5" width="7.2" height="2.2" fill="#6aaee0"/>
<text x="290.8" y="179.4" font-size="5.2" text-anchor="start" fill="#333" textLength="27.46" lengthAdjust="spacingAndGlyphs" stroke="#333" stroke-width="0.12">LSK CD45.2</text>
<rect x="280.6" y="185.70000000000002" width="7.2" height="2.2" fill="#e08a1e"/>
<text x="290.8" y="188.60000000000002" font-size="5.2" text-anchor="start" fill="#333" textLength="43.65" lengthAdjust="spacingAndGlyphs" stroke="#333" stroke-width="0.12">SLAM-HSC CD45.1</text>
<rect x="280.6" y="194.70000000000002" width="7.2" height="2.2" fill="#a3102a"/>
<text x="290.8" y="197.60000000000002" font-size="5.2" text-anchor="start" fill="#333" textLength="36.52" lengthAdjust="spacingAndGlyphs" stroke="#333" stroke-width="0.12">SLAM-HSC 45.2</text>
<rect x="227.9" y="283" width="26.8" height="2.5" fill="#4f2468"/>
<rect x="227.9" y="222.4" width="26.8" height="60.599999999999994" fill="#6aa944"/>
<rect x="227.9" y="221.6" width="26.8" height="0.8000000000000114" fill="#284a82"/>
<rect x="227.9" y="218" width="26.8" height="3.5999999999999943" fill="#6aaee0"/>
<rect x="227.9" y="216.1" width="26.8" height="1.9000000000000057" fill="#a3102a"/>
<rect x="268.1" y="279.3" width="26.8" height="6.199999999999989" fill="#4f2468"/>
<rect x="268.1" y="255.5" width="26.8" height="23.80000000000001" fill="#6aa944"/>
<rect x="268.1" y="254.1" width="26.8" height="1.4000000000000057" fill="#284a82"/>
<rect x="268.1" y="248.1" width="26.8" height="6.0" fill="#6aaee0"/>
<rect x="307.7" y="283" width="26.8" height="2.5" fill="#4f2468"/>
<rect x="307.7" y="258.2" width="26.8" height="24.80000000000001" fill="#6aa944"/>
<rect x="307.7" y="254.1" width="26.8" height="4.099999999999994" fill="#284a82"/>
<rect x="307.7" y="210.3" width="26.8" height="43.79999999999998" fill="#6aaee0"/>
<rect x="307.7" y="206" width="26.8" height="4.300000000000011" fill="#a3102a"/>
<line x1="211.3" y1="285.7" x2="214.5" y2="285.7" stroke="#1a1718" stroke-width="1.0"/>
<line x1="211.3" y1="275.37" x2="214.5" y2="275.37" stroke="#1a1718" stroke-width="1.0"/>
<line x1="211.3" y1="265.03999999999996" x2="214.5" y2="265.03999999999996" stroke="#1a1718" stroke-width="1.0"/>
<line x1="211.3" y1="254.70999999999998" x2="214.5" y2="254.70999999999998" stroke="#1a1718" stroke-width="1.0"/>
<line x1="211.3" y1="244.38" x2="214.5" y2="244.38" stroke="#1a1718" stroke-width="1.0"/>
<line x1="211.3" y1="234.04999999999998" x2="214.5" y2="234.04999999999998" stroke="#1a1718" stroke-width="1.0"/>
<line x1="211.3" y1="223.71999999999997" x2="214.5" y2="223.71999999999997" stroke="#1a1718" stroke-width="1.0"/>
<line x1="211.3" y1="213.39" x2="214.5" y2="213.39" stroke="#1a1718" stroke-width="1.0"/>
<line x1="211.3" y1="203.06" x2="214.5" y2="203.06" stroke="#1a1718" stroke-width="1.0"/>
<line x1="241.2" y1="285.7" x2="241.2" y2="288.9" stroke="#1a1718" stroke-width="1.0"/>
<line x1="281.3" y1="285.7" x2="281.3" y2="288.9" stroke="#1a1718" stroke-width="1.0"/>
<line x1="321" y1="285.7" x2="321" y2="288.9" stroke="#1a1718" stroke-width="1.0"/>
<line x1="214.5" y1="199" x2="214.5" y2="286.3" stroke="#1a1718" stroke-width="1.2"/>
<line x1="213.9" y1="285.7" x2="339.5" y2="285.7" stroke="#1a1718" stroke-width="1.2"/>
<text x="192.1" y="277.57" font-size="6.4" text-anchor="start" fill="#1a1718" textLength="16.5" lengthAdjust="spacingAndGlyphs" stroke="#1a1718" stroke-width="0.15">1×10<tspan font-size="3.8" dy="-2.6">4</tspan></text>
<text x="192.1" y="267.23999999999995" font-size="6.4" text-anchor="start" fill="#1a1718" textLength="16.5" lengthAdjust="spacingAndGlyphs" stroke="#1a1718" stroke-width="0.15">2×10<tspan font-size="3.8" dy="-2.6">4</tspan></text>
<text x="192.1" y="256.90999999999997" font-size="6.4" text-anchor="start" fill="#1a1718" textLength="16.5" lengthAdjust="spacingAndGlyphs" stroke="#1a1718" stroke-width="0.15">3×10<tspan font-size="3.8" dy="-2.6">4</tspan></text>
<text x="192.1" y="246.57999999999998" font-size="6.4" text-anchor="start" fill="#1a1718" textLength="16.5" lengthAdjust="spacingAndGlyphs" stroke="#1a1718" stroke-width="0.15">4×10<tspan font-size="3.8" dy="-2.6">4</tspan></text>
<text x="192.1" y="236.24999999999997" font-size="6.4" text-anchor="start" fill="#1a1718" textLength="16.5" lengthAdjust="spacingAndGlyphs" stroke="#1a1718" stroke-width="0.15">5×10<tspan font-size="3.8" dy="-2.6">4</tspan></text>
<text x="192.1" y="225.91999999999996" font-size="6.4" text-anchor="start" fill="#1a1718" textLength="16.5" lengthAdjust="spacingAndGlyphs" stroke="#1a1718" stroke-width="0.15">6×10<tspan font-size="3.8" dy="-2.6">4</tspan></text>
<text x="192.1" y="215.58999999999997" font-size="6.4" text-anchor="start" fill="#1a1718" textLength="16.5" lengthAdjust="spacingAndGlyphs" stroke="#1a1718" stroke-width="0.15">7×10<tspan font-size="3.8" dy="-2.6">4</tspan></text>
<text x="192.1" y="205.26" font-size="6.4" text-anchor="start" fill="#1a1718" textLength="16.5" lengthAdjust="spacingAndGlyphs" stroke="#1a1718" stroke-width="0.15">8×10<tspan font-size="3.8" dy="-2.6">4</tspan></text>
<text x="209.2" y="287.9" font-size="6.4" text-anchor="end" fill="#1a1718" textLength="3.06" lengthAdjust="spacingAndGlyphs" stroke="#1a1718" stroke-width="0.15">0</text>
<text x="241.8" y="297.9" font-size="6.4" text-anchor="middle" fill="#1a1718" textLength="21.5" lengthAdjust="spacingAndGlyphs" stroke="#1a1718" stroke-width="0.1">Bid +/+</text>
<text x="281.3" y="297.9" font-size="6.4" text-anchor="middle" fill="#1a1718" textLength="12.6" lengthAdjust="spacingAndGlyphs" stroke="#1a1718" stroke-width="0.1">DKO</text>
<text x="321.7" y="297.9" font-size="6.4" text-anchor="middle" fill="#1a1718" textLength="11.6" lengthAdjust="spacingAndGlyphs" stroke="#1a1718" stroke-width="0.1">TKO</text>
<text x="186.3" y="242.7" font-size="8.6" text-anchor="middle" fill="#1a1718" textLength="72.6" lengthAdjust="spacingAndGlyphs" transform="rotate(-90 186.3 242.7)" stroke="#1a1718" stroke-width="0.3">Avg. number of cells</text>
<text x="452.1" y="179.1832" font-size="7.8" text-anchor="middle" fill="#1a1718" textLength="43" lengthAdjust="spacingAndGlyphs" stroke="#1a1718" stroke-width="0.2">LSK CD 45.2</text>
<line x1="395.0" y1="285.5" x2="397.6" y2="285.5" stroke="#1a1718" stroke-width="1.0"/>
<text x="391.8" y="287.7016" font-size="6.4" text-anchor="end" fill="#1a1718" textLength="3.31" lengthAdjust="spacingAndGlyphs" stroke="#1a1718" stroke-width="0.15">0</text>
<line x1="395.0" y1="275.11" x2="397.6" y2="275.11" stroke="#1a1718" stroke-width="1.0"/>
<text x="391.8" y="277.3116" font-size="6.4" text-anchor="end" fill="#1a1718" textLength="18.21" lengthAdjust="spacingAndGlyphs" stroke="#1a1718" stroke-width="0.15">20,000</text>
<line x1="395.0" y1="264.72" x2="397.6" y2="264.72" stroke="#1a1718" stroke-width="1.0"/>
<text x="391.8" y="266.9216" font-size="6.4" text-anchor="end" fill="#1a1718" textLength="18.21" lengthAdjust="spacingAndGlyphs" stroke="#1a1718" stroke-width="0.15">40,000</text>
<line x1="395.0" y1="254.32999999999998" x2="397.6" y2="254.32999999999998" stroke="#1a1718" stroke-width="1.0"/>
<text x="391.8" y="256.53159999999997" font-size="6.4" text-anchor="end" fill="#1a1718" textLength="18.21" lengthAdjust="spacingAndGlyphs" stroke="#1a1718" stroke-width="0.15">60,000</text>
<line x1="395.0" y1="243.94" x2="397.6" y2="243.94" stroke="#1a1718" stroke-width="1.0"/>
<text x="391.8" y="246.1416" font-size="6.4" text-anchor="end" fill="#1a1718" textLength="18.21" lengthAdjust="spacingAndGlyphs" stroke="#1a1718" stroke-width="0.15">80,000</text>
<line x1="395.0" y1="233.55" x2="397.6" y2="233.55" stroke="#1a1718" stroke-width="1.0"/>
<text x="391.8" y="235.75160000000002" font-size="6.4" text-anchor="end" fill="#1a1718" textLength="21.52" lengthAdjust="spacingAndGlyphs" stroke="#1a1718" stroke-width="0.15">100,000</text>
<line x1="395.0" y1="223.16" x2="397.6" y2="223.16" stroke="#1a1718" stroke-width="1.0"/>
<text x="391.8" y="225.3616" font-size="6.4" text-anchor="end" fill="#1a1718" textLength="21.52" lengthAdjust="spacingAndGlyphs" stroke="#1a1718" stroke-width="0.15">120,000</text>
<line x1="395.0" y1="212.76999999999998" x2="397.6" y2="212.76999999999998" stroke="#1a1718" stroke-width="1.0"/>
<text x="391.8" y="214.9716" font-size="6.4" text-anchor="end" fill="#1a1718" textLength="21.52" lengthAdjust="spacingAndGlyphs" stroke="#1a1718" stroke-width="0.15">140,000</text>
<line x1="419.8" y1="285.5" x2="419.8" y2="288.1" stroke="#1a1718" stroke-width="1.0"/>
<line x1="452.3" y1="285.5" x2="452.3" y2="288.1" stroke="#1a1718" stroke-width="1.0"/>
<line x1="484.6" y1="285.5" x2="484.6" y2="288.1" stroke="#1a1718" stroke-width="1.0"/>
<line x1="397.6" y1="209.5" x2="397.6" y2="286.1" stroke="#1a1718" stroke-width="1.2"/>
<line x1="397.0" y1="285.5" x2="507.5" y2="285.5" stroke="#1a1718" stroke-width="1.2"/>
<text x="420.2" y="297.8" font-size="6.2" text-anchor="middle" fill="#1a1718" textLength="21" lengthAdjust="spacingAndGlyphs" stroke="#1a1718" stroke-width="0.14">Bid +/+</text>
<text x="452.3" y="297.8" font-size="6.2" text-anchor="middle" fill="#1a1718" textLength="12.5" lengthAdjust="spacingAndGlyphs" stroke="#1a1718" stroke-width="0.14">DKO</text>
<text x="484.9" y="297.8" font-size="6.2" text-anchor="middle" fill="#1a1718" textLength="11" lengthAdjust="spacingAndGlyphs" stroke="#1a1718" stroke-width="0.14">TKO</text>
<text x="363.7" y="248" font-size="9.0" text-anchor="middle" fill="#1a1718" textLength="56.3" lengthAdjust="spacingAndGlyphs" transform="rotate(-90 363.7 248)" stroke="#1a1718" stroke-width="0.3">Number of cells</text>
<path d="M415.4 212.9 L415.4 208.4 L485.2 208.4 L485.2 212.9" stroke="#1a1718" stroke-width="1.0" fill="none" stroke-linejoin="round"/>
<path d="M448.2 223.5 L448.2 219.2 L485.2 219.2 L485.2 223.5" stroke="#1a1718" stroke-width="1.0" fill="none" stroke-linejoin="round"/>
<circle cx="450.1" cy="203.8" r="0.92" fill="#333"/>
<circle cx="452.5" cy="203.8" r="0.92" fill="#333"/>
<circle cx="466.6" cy="215" r="0.92" fill="#333"/>
<circle cx="469.0" cy="215" r="0.92" fill="#333"/>
<line x1="408.5" y1="284" x2="431.5" y2="284" stroke="#888" stroke-width="0.9"/>
<circle cx="411" cy="283.0" r="1.25" fill="#1f3f7a"/>
<circle cx="413.3" cy="284.0" r="1.25" fill="#1f3f7a"/>
<circle cx="415.6" cy="283.0" r="1.25" fill="#1f3f7a"/>
<circle cx="417.9" cy="284.0" r="1.25" fill="#1f3f7a"/>
<circle cx="420.2" cy="283.0" r="1.25" fill="#1f3f7a"/>
<circle cx="422.5" cy="284.0" r="1.25" fill="#1f3f7a"/>
<circle cx="424.8" cy="283.0" r="1.25" fill="#1f3f7a"/>
<circle cx="427.1" cy="284.0" r="1.25" fill="#1f3f7a"/>
<circle cx="429" cy="283.0" r="1.25" fill="#1f3f7a"/>
<line x1="441.5" y1="283.6" x2="464" y2="283.6" stroke="#7a7a7a" stroke-width="0.8"/>
<path d="M443 280.625L444.575 283.38124999999997L441.425 283.38124999999997Z" fill="#5cb83c"/>
<path d="M445.2 281.225L446.775 283.98125L443.625 283.98125Z" fill="#5cb83c"/>
<path d="M447.4 282.02500000000003L448.97499999999997 284.78125L445.825 284.78125Z" fill="#5cb83c"/>
<path d="M449.6 282.725L451.175 285.48125L448.02500000000003 285.48125Z" fill="#5cb83c"/>
<path d="M451.8 283.02500000000003L453.375 285.78125L450.225 285.78125Z" fill="#5cb83c"/>
<path d="M454 283.02500000000003L455.575 285.78125L452.425 285.78125Z" fill="#5cb83c"/>
<path d="M456.2 282.725L457.775 285.48125L454.625 285.48125Z" fill="#5cb83c"/>
<path d="M458.4 282.02500000000003L459.97499999999997 284.78125L456.825 284.78125Z" fill="#5cb83c"/>
<path d="M460.6 281.225L462.175 283.98125L459.02500000000003 283.98125Z" fill="#5cb83c"/>
<path d="M462.8 280.625L464.375 283.38124999999997L461.225 283.38124999999997Z" fill="#5cb83c"/>
<path d="M450.6 278.02500000000003L452.175 280.78125L449.02500000000003 280.78125Z" fill="#5cb83c"/>
<path d="M454.8 278.02500000000003L456.375 280.78125L453.225 280.78125Z" fill="#5cb83c"/>
<line x1="449" y1="283.4" x2="460" y2="283.4" stroke="#222" stroke-width="0.8"/>
<line x1="474.4" y1="263.6" x2="495.8" y2="263.6" stroke="#555" stroke-width="1"/>
<path d="M485 226.27499999999998L486.425 227.7L485 229.125L483.575 227.7Z" fill="#4e1f6e"/>
<path d="M485 239.77499999999998L486.425 241.2L485 242.625L483.575 241.2Z" fill="#4e1f6e"/>
<path d="M483.3 271.675L484.725 273.1L483.3 274.52500000000003L481.875 273.1Z" fill="#4e1f6e"/>
<path d="M487.9 274.375L489.325 275.8L487.9 277.225L486.47499999999997 275.8Z" fill="#4e1f6e"/>
<path d="M487.9 279.375L489.325 280.8L487.9 282.225L486.47499999999997 280.8Z" fill="#4e1f6e"/>
<path d="M483.3 282.575L484.725 284L483.3 285.425L481.875 284Z" fill="#4e1f6e"/>
<text x="105" y="349.2584" font-size="8.6" text-anchor="middle" fill="#1a1718" textLength="77.5" lengthAdjust="spacingAndGlyphs" stroke="#1a1718" stroke-width="0.3">Secondary Transplant</text>
<line x1="45.3" y1="431.3" x2="47.9" y2="431.3" stroke="#1a1718" stroke-width="1.0"/>
<text x="42.1" y="433.5016" font-size="6.4" text-anchor="end" fill="#1a1718" textLength="3.31" lengthAdjust="spacingAndGlyphs" stroke="#1a1718" stroke-width="0.15">0</text>
<line x1="45.3" y1="420.66" x2="47.9" y2="420.66" stroke="#1a1718" stroke-width="1.0"/>
<text x="42.1" y="422.8616" font-size="6.4" text-anchor="end" fill="#1a1718" textLength="6.62" lengthAdjust="spacingAndGlyphs" stroke="#1a1718" stroke-width="0.15">10</text>
<line x1="45.3" y1="410.02" x2="47.9" y2="410.02" stroke="#1a1718" stroke-width="1.0"/>
<text x="42.1" y="412.22159999999997" font-size="6.4" text-anchor="end" fill="#1a1718" textLength="6.62" lengthAdjust="spacingAndGlyphs" stroke="#1a1718" stroke-width="0.15">20</text>
<line x1="45.3" y1="399.38" x2="47.9" y2="399.38" stroke="#1a1718" stroke-width="1.0"/>
<text x="42.1" y="401.5816" font-size="6.4" text-anchor="end" fill="#1a1718" textLength="6.62" lengthAdjust="spacingAndGlyphs" stroke="#1a1718" stroke-width="0.15">30</text>
<line x1="45.3" y1="388.74" x2="47.9" y2="388.74" stroke="#1a1718" stroke-width="1.0"/>
<text x="42.1" y="390.9416" font-size="6.4" text-anchor="end" fill="#1a1718" textLength="6.62" lengthAdjust="spacingAndGlyphs" stroke="#1a1718" stroke-width="0.15">40</text>
<line x1="45.3" y1="378.1" x2="47.9" y2="378.1" stroke="#1a1718" stroke-width="1.0"/>
<text x="42.1" y="380.3016" font-size="6.4" text-anchor="end" fill="#1a1718" textLength="6.62" lengthAdjust="spacingAndGlyphs" stroke="#1a1718" stroke-width="0.15">50</text>
<line x1="45.3" y1="367.46000000000004" x2="47.9" y2="367.46000000000004" stroke="#1a1718" stroke-width="1.0"/>
<text x="42.1" y="369.6616" font-size="6.4" text-anchor="end" fill="#1a1718" textLength="6.62" lengthAdjust="spacingAndGlyphs" stroke="#1a1718" stroke-width="0.15">60</text>
<line x1="45.3" y1="356.82" x2="47.9" y2="356.82" stroke="#1a1718" stroke-width="1.0"/>
<text x="42.1" y="359.0216" font-size="6.4" text-anchor="end" fill="#1a1718" textLength="6.62" lengthAdjust="spacingAndGlyphs" stroke="#1a1718" stroke-width="0.15">70</text>
<line x1="47.9" y1="431.3" x2="47.9" y2="433.90000000000003" stroke="#1a1718" stroke-width="1.0"/>
<text x="47.9" y="443.3016" font-size="6.4" text-anchor="middle" fill="#1a1718" textLength="3.31" lengthAdjust="spacingAndGlyphs" stroke="#1a1718" stroke-width="0.15">5</text>
<line x1="85.19999999999999" y1="431.3" x2="85.19999999999999" y2="433.90000000000003" stroke="#1a1718" stroke-width="1.0"/>
<text x="85.19999999999999" y="443.3016" font-size="6.4" text-anchor="middle" fill="#1a1718" textLength="6.62" lengthAdjust="spacingAndGlyphs" stroke="#1a1718" stroke-width="0.15">10</text>
<line x1="122.5" y1="431.3" x2="122.5" y2="433.90000000000003" stroke="#1a1718" stroke-width="1.0"/>
<text x="122.5" y="443.3016" font-size="6.4" text-anchor="middle" fill="#1a1718" textLength="6.62" lengthAdjust="spacingAndGlyphs" stroke="#1a1718" stroke-width="0.15">15</text>
<line x1="159.8" y1="431.3" x2="159.8" y2="433.90000000000003" stroke="#1a1718" stroke-width="1.0"/>
<text x="159.8" y="443.3016" font-size="6.4" text-anchor="middle" fill="#1a1718" textLength="6.62" lengthAdjust="spacingAndGlyphs" stroke="#1a1718" stroke-width="0.15">20</text>
<line x1="47.9" y1="355" x2="47.9" y2="431.90000000000003" stroke="#1a1718" stroke-width="1.2"/>
<line x1="47.3" y1="431.3" x2="163" y2="431.3" stroke="#1a1718" stroke-width="1.2"/>
<text x="104" y="454.85" font-size="8.6" text-anchor="middle" fill="#1a1718" textLength="100.3" lengthAdjust="spacingAndGlyphs" stroke="#1a1718" stroke-width="0.3">Weeks after transplantation</text>
<text x="19.2" y="393" font-size="9.0" text-anchor="middle" fill="#1a1718" textLength="61.6" lengthAdjust="spacingAndGlyphs" transform="rotate(-90 19.2 393)" stroke="#1a1718" stroke-width="0.3">Percent CD45.2+</text>
<text x="30.4" y="393" font-size="8.6" text-anchor="middle" fill="#1a1718" textLength="65.5" lengthAdjust="spacingAndGlyphs" transform="rotate(-90 30.4 393)" stroke="#1a1718" stroke-width="0.3">(peripheral blood)</text>
<path d="M70.28 395.12 L100.12 385.55 L129.96 380.23 L159.80 373.31" stroke="#5cad40" stroke-width="1.5" fill="none" stroke-linejoin="round"/>
<line x1="70.28" y1="398.848" x2="70.28" y2="390.868" stroke="#5cad40" stroke-width="1.1"/>
<line x1="67.98" y1="398.848" x2="72.58" y2="398.848" stroke="#5cad40" stroke-width="1.1"/>
<line x1="67.98" y1="390.868" x2="72.58" y2="390.868" stroke="#5cad40" stroke-width="1.1"/>
<line x1="100.12" y1="391.4" x2="100.12" y2="379.164" stroke="#5cad40" stroke-width="1.1"/>
<line x1="97.82000000000001" y1="391.4" x2="102.42" y2="391.4" stroke="#5cad40" stroke-width="1.1"/>
<line x1="97.82000000000001" y1="379.164" x2="102.42" y2="379.164" stroke="#5cad40" stroke-width="1.1"/>
<line x1="129.96" y1="387.676" x2="129.96" y2="372.78000000000003" stroke="#5cad40" stroke-width="1.1"/>
<line x1="127.66000000000001" y1="387.676" x2="132.26000000000002" y2="387.676" stroke="#5cad40" stroke-width="1.1"/>
<line x1="127.66000000000001" y1="372.78000000000003" x2="132.26000000000002" y2="372.78000000000003" stroke="#5cad40" stroke-width="1.1"/>
<line x1="159.8" y1="381.29200000000003" x2="159.8" y2="365.332" stroke="#5cad40" stroke-width="1.1"/>
<line x1="157.5" y1="381.29200000000003" x2="162.10000000000002" y2="381.29200000000003" stroke="#5cad40" stroke-width="1.1"/>
<line x1="157.5" y1="365.332" x2="162.10000000000002" y2="365.332" stroke="#5cad40" stroke-width="1.1"/>
<path d="M70.28 393.024L72.38 396.699L68.18 396.699Z" fill="#5cad40"/>
<path d="M100.12 383.448L102.22 387.123L98.02000000000001 387.123Z" fill="#5cad40"/>
<path d="M129.96 378.128L132.06 381.803L127.86000000000001 381.803Z" fill="#5cad40"/>
<path d="M159.8 371.212L161.9 374.887L157.70000000000002 374.887Z" fill="#5cad40"/>
<path d="M70.28 422.79 L100.12 421.72 L129.96 422.26 L159.80 420.13" stroke="#4e1f6e" stroke-width="1.5" fill="none" stroke-linejoin="round"/>
<line x1="70.28" y1="426.512" x2="70.28" y2="418.53200000000004" stroke="#4e1f6e" stroke-width="1.1"/>
<line x1="67.98" y1="426.512" x2="72.58" y2="426.512" stroke="#4e1f6e" stroke-width="1.1"/>
<line x1="67.98" y1="418.53200000000004" x2="72.58" y2="418.53200000000004" stroke="#4e1f6e" stroke-width="1.1"/>
<line x1="100.12" y1="425.44800000000004" x2="100.12" y2="417.468" stroke="#4e1f6e" stroke-width="1.1"/>
<line x1="97.82000000000001" y1="425.44800000000004" x2="102.42" y2="425.44800000000004" stroke="#4e1f6e" stroke-width="1.1"/>
<line x1="97.82000000000001" y1="417.468" x2="102.42" y2="417.468" stroke="#4e1f6e" stroke-width="1.1"/>
<line x1="129.96" y1="425.98" x2="129.96" y2="418.53200000000004" stroke="#4e1f6e" stroke-width="1.1"/>
<line x1="127.66000000000001" y1="425.98" x2="132.26000000000002" y2="425.98" stroke="#4e1f6e" stroke-width="1.1"/>
<line x1="127.66000000000001" y1="418.53200000000004" x2="132.26000000000002" y2="418.53200000000004" stroke="#4e1f6e" stroke-width="1.1"/>
<line x1="159.8" y1="423.85200000000003" x2="159.8" y2="416.404" stroke="#4e1f6e" stroke-width="1.1"/>
<line x1="157.5" y1="423.85200000000003" x2="162.10000000000002" y2="423.85200000000003" stroke="#4e1f6e" stroke-width="1.1"/>
<line x1="157.5" y1="416.404" x2="162.10000000000002" y2="416.404" stroke="#4e1f6e" stroke-width="1.1"/>
<path d="M70.28 420.88800000000003L72.18 422.788L70.28 424.688L68.38 422.788Z" fill="#4e1f6e"/>
<path d="M100.12 419.824L102.02000000000001 421.724L100.12 423.62399999999997L98.22 421.724Z" fill="#4e1f6e"/>
<path d="M129.96 420.35600000000005L131.86 422.25600000000003L129.96 424.156L128.06 422.25600000000003Z" fill="#4e1f6e"/>
<path d="M159.8 418.228L161.70000000000002 420.128L159.8 422.02799999999996L157.9 420.128Z" fill="#4e1f6e"/>
<circle cx="69.08" cy="405" r="0.92" fill="#333"/>
<circle cx="71.48" cy="405" r="0.92" fill="#333"/>
<circle cx="97.72" cy="400" r="0.92" fill="#333"/>
<circle cx="100.12" cy="400" r="0.92" fill="#333"/>
<circle cx="102.52" cy="400" r="0.92" fill="#333"/>
<circle cx="127.56" cy="398" r="0.92" fill="#333"/>
<circle cx="129.96" cy="398" r="0.92" fill="#333"/>
<circle cx="132.36" cy="398" r="0.92" fill="#333"/>
<circle cx="157.4" cy="395.5" r="0.92" fill="#333"/>
<circle cx="159.8" cy="395.5" r="0.92" fill="#333"/>
<circle cx="162.2" cy="395.5" r="0.92" fill="#333"/>
<line x1="60.1" y1="365.8" x2="71" y2="365.8" stroke="#5cad40" stroke-width="1.5"/>
<path d="M65.55 363.595L67.755 367.45375L63.345 367.45375Z" fill="#5cad40"/>
<text x="73.8" y="367.69" font-size="5.4" text-anchor="start" fill="#333" textLength="11.47" lengthAdjust="spacingAndGlyphs" stroke="#333" stroke-width="0.1">DKO</text>
<line x1="60.1" y1="374.4" x2="71" y2="374.4" stroke="#4e1f6e" stroke-width="1.5"/>
<path d="M65.55 372.405L67.545 374.4L65.55 376.395L63.555 374.4Z" fill="#4e1f6e"/>
<text x="73.8" y="376.28999999999996" font-size="5.4" text-anchor="start" fill="#333" textLength="10.88" lengthAdjust="spacingAndGlyphs" stroke="#333" stroke-width="0.1">TKO</text>
<text x="266.6" y="347.2584" font-size="8.6" text-anchor="middle" fill="#1a1718" textLength="31.6" lengthAdjust="spacingAndGlyphs" stroke="#1a1718" stroke-width="0.3">Colony #</text>
<rect x="223.1" y="401.905" width="35.7" height="29.495000000000005" fill="#2c4a80"/>
<line x1="223.1" y1="401.558" x2="258.8" y2="401.558" stroke="#5d7aa8" stroke-width="0.6"/>
<rect x="276.2" y="379.34999999999997" width="35" height="52.05000000000001" fill="#52245e"/>
<line x1="293.7" y1="379.34999999999997" x2="293.7" y2="372.75699999999995" stroke="#7a4a8a" stroke-width="1.2"/>
<line x1="284.2" y1="372.75699999999995" x2="302.3" y2="372.75699999999995" stroke="#7a4a8a" stroke-width="1.2"/>
<line x1="212.20000000000002" y1="431.4" x2="214.8" y2="431.4" stroke="#1a1718" stroke-width="1.0"/>
<text x="209.0" y="433.60159999999996" font-size="6.4" text-anchor="end" fill="#1a1718" textLength="8.27" lengthAdjust="spacingAndGlyphs" stroke="#1a1718" stroke-width="0.15">0.0</text>
<line x1="212.20000000000002" y1="414.04999999999995" x2="214.8" y2="414.04999999999995" stroke="#1a1718" stroke-width="1.0"/>
<text x="209.0" y="416.25159999999994" font-size="6.4" text-anchor="end" fill="#1a1718" textLength="8.27" lengthAdjust="spacingAndGlyphs" stroke="#1a1718" stroke-width="0.15">0.5</text>
<line x1="212.20000000000002" y1="396.7" x2="214.8" y2="396.7" stroke="#1a1718" stroke-width="1.0"/>
<text x="209.0" y="398.9016" font-size="6.4" text-anchor="end" fill="#1a1718" textLength="8.27" lengthAdjust="spacingAndGlyphs" stroke="#1a1718" stroke-width="0.15">1.0</text>
<line x1="212.20000000000002" y1="379.34999999999997" x2="214.8" y2="379.34999999999997" stroke="#1a1718" stroke-width="1.0"/>
<text x="209.0" y="381.55159999999995" font-size="6.4" text-anchor="end" fill="#1a1718" textLength="8.27" lengthAdjust="spacingAndGlyphs" stroke="#1a1718" stroke-width="0.15">1.5</text>
<line x1="212.20000000000002" y1="362.0" x2="214.8" y2="362.0" stroke="#1a1718" stroke-width="1.0"/>
<text x="209.0" y="364.2016" font-size="6.4" text-anchor="end" fill="#1a1718" textLength="8.27" lengthAdjust="spacingAndGlyphs" stroke="#1a1718" stroke-width="0.15">2.0</text>
<line x1="241.1" y1="431.4" x2="241.1" y2="434.0" stroke="#1a1718" stroke-width="1.0"/>
<line x1="293.5" y1="431.4" x2="293.5" y2="434.0" stroke="#1a1718" stroke-width="1.0"/>
<line x1="214.8" y1="359" x2="214.8" y2="432.0" stroke="#1a1718" stroke-width="1.2"/>
<line x1="214.20000000000002" y1="431.4" x2="318.8" y2="431.4" stroke="#1a1718" stroke-width="1.2"/>
<path d="M241.5 356.5 L241.5 361.2 M241.5 358.8 L292.8 358.8 M292.8 356.5 L292.8 361.2" stroke="#1a1718" stroke-width="1.1" fill="none" stroke-linejoin="round"/>
<circle cx="266.9" cy="353" r="0.92" fill="#333"/>
<text x="242.2" y="442.6" font-size="6.2" text-anchor="middle" fill="#1a1718" textLength="19.5" lengthAdjust="spacingAndGlyphs" stroke="#1a1718" stroke-width="0.08">Bid+/+</text>
<text x="293.5" y="442.6" font-size="6.2" text-anchor="middle" fill="#1a1718" textLength="11.6" lengthAdjust="spacingAndGlyphs" stroke="#1a1718" stroke-width="0.08">TKO</text>
<text x="195" y="395.8" font-size="8.6" text-anchor="middle" fill="#1a1718" textLength="62" lengthAdjust="spacingAndGlyphs" transform="rotate(-90 195 395.8)" stroke="#1a1718" stroke-width="0.3">CD45.1<tspan font-size="5.5" dy="-3.2">+</tspan><tspan dy="3.2"> /CD45.2</tspan><tspan font-size="5.5" dy="-3.2">+</tspan></text>
<text x="450" y="347.1584" font-size="8.6" text-anchor="middle" fill="#1a1718" textLength="32.4" lengthAdjust="spacingAndGlyphs" stroke="#1a1718" stroke-width="0.3">Colony #</text>
<rect x="401.5" y="384.3" width="18.5" height="47.30000000000001" fill="#2c4a80"/>
<rect x="428.1" y="384.3" width="18.5" height="47.30000000000001" fill="#8c93bd"/>
<rect x="454.6" y="406.058" width="18.5" height="25.54200000000003" fill="#52245e"/>
<line x1="463.85" y1="406.058" x2="463.85" y2="402.274" stroke="#52245e" stroke-width="1.2"/>
<line x1="459.1" y1="402.274" x2="468.6" y2="402.274" stroke="#52245e" stroke-width="1.2"/>
<rect x="480.5" y="415.51800000000003" width="18.5" height="16.081999999999994" fill="#9b80ae"/>
<line x1="489.75" y1="415.51800000000003" x2="489.75" y2="412.68" stroke="#9b80ae" stroke-width="1.2"/>
<line x1="485.0" y1="412.68" x2="494.5" y2="412.68" stroke="#9b80ae" stroke-width="1.2"/>
<line x1="395.4" y1="431.6" x2="398" y2="431.6" stroke="#1a1718" stroke-width="1.0"/>
<text x="392.2" y="433.8016" font-size="6.4" text-anchor="end" fill="#1a1718" textLength="8.27" lengthAdjust="spacingAndGlyphs" stroke="#1a1718" stroke-width="0.15">0.0</text>
<line x1="395.4" y1="407.95000000000005" x2="398" y2="407.95000000000005" stroke="#1a1718" stroke-width="1.0"/>
<text x="392.2" y="410.15160000000003" font-size="6.4" text-anchor="end" fill="#1a1718" textLength="8.27" lengthAdjust="spacingAndGlyphs" stroke="#1a1718" stroke-width="0.15">0.5</text>
<line x1="395.4" y1="384.3" x2="398" y2="384.3" stroke="#1a1718" stroke-width="1.0"/>
<text x="392.2" y="386.5016" font-size="6.4" text-anchor="end" fill="#1a1718" textLength="8.27" lengthAdjust="spacingAndGlyphs" stroke="#1a1718" stroke-width="0.15">1.0</text>
<line x1="395.4" y1="360.65000000000003" x2="398" y2="360.65000000000003" stroke="#1a1718" stroke-width="1.0"/>
<text x="392.2" y="362.8516" font-size="6.4" text-anchor="end" fill="#1a1718" textLength="8.27" lengthAdjust="spacingAndGlyphs" stroke="#1a1718" stroke-width="0.15">1.5</text>
<line x1="410.8" y1="431.6" x2="410.8" y2="434.20000000000005" stroke="#1a1718" stroke-width="1.0"/>
<line x1="437.3" y1="431.6" x2="437.3" y2="434.20000000000005" stroke="#1a1718" stroke-width="1.0"/>
<line x1="463.4" y1="431.6" x2="463.4" y2="434.20000000000005" stroke="#1a1718" stroke-width="1.0"/>
<line x1="490.4" y1="431.6" x2="490.4" y2="434.20000000000005" stroke="#1a1718" stroke-width="1.0"/>
<line x1="398" y1="358" x2="398" y2="432.20000000000005" stroke="#1a1718" stroke-width="1.2"/>
<line x1="397.4" y1="431.6" x2="502" y2="431.6" stroke="#1a1718" stroke-width="1.2"/>
<path d="M410.8 371.6 L410.8 375.3 M410.8 373.5 L463.4 373.5 M463.4 371.6 L463.4 375.3" stroke="#1a1718" stroke-width="1.1" fill="none" stroke-linejoin="round"/>
<path d="M437.3 355.9 L437.3 359.6 M437.3 357.8 L490.4 357.8 M490.4 355.9 L490.4 359.6" stroke="#1a1718" stroke-width="1.1" fill="none" stroke-linejoin="round"/>
<circle cx="436.1" cy="369.3" r="0.92" fill="#333"/>
<circle cx="438.5" cy="369.3" r="0.92" fill="#333"/>
<circle cx="461.0" cy="353.4" r="0.92" fill="#333"/>
<circle cx="463.4" cy="353.4" r="0.92" fill="#333"/>
<circle cx="465.8" cy="353.4" r="0.92" fill="#333"/>
<text x="414.0" y="440.2" font-size="6.3" text-anchor="end" fill="#1a1718" textLength="39.26" lengthAdjust="spacingAndGlyphs" transform="rotate(-45 414.0 440.2)" stroke="#1a1718" stroke-width="0.12">Bid+/+ CD45.1</text>
<text x="440.5" y="440.2" font-size="6.3" text-anchor="end" fill="#1a1718" textLength="39.26" lengthAdjust="spacingAndGlyphs" transform="rotate(-45 440.5 440.2)" stroke="#1a1718" stroke-width="0.12">Bid+/+ CD45.2</text>
<text x="466.59999999999997" y="440.2" font-size="6.3" text-anchor="end" fill="#1a1718" textLength="34.26" lengthAdjust="spacingAndGlyphs" transform="rotate(-45 466.59999999999997 440.2)" stroke="#1a1718" stroke-width="0.12">TKO CD45.1</text>
<text x="493.59999999999997" y="440.2" font-size="6.3" text-anchor="end" fill="#1a1718" textLength="34.26" lengthAdjust="spacingAndGlyphs" transform="rotate(-45 493.59999999999997 440.2)" stroke="#1a1718" stroke-width="0.12">TKO CD45.2</text>
<text x="368" y="392.8" font-size="8.6" text-anchor="middle" fill="#1a1718" textLength="35.7" lengthAdjust="spacingAndGlyphs" transform="rotate(-90 368 392.8)" stroke="#1a1718" stroke-width="0.3"># colonies</text>
<text x="378.1" y="396.9" font-size="8.6" text-anchor="middle" fill="#1a1718" textLength="57.2" lengthAdjust="spacingAndGlyphs" transform="rotate(-90 378.1 396.9)" stroke="#1a1718" stroke-width="0.3">relative to Bid/+</text>
<rect x="0" y="0" width="520" height="1" fill="#000"/>
<rect x="0" y="0" width="1" height="482" fill="#000"/>
<rect x="519" y="0" width="1" height="482" fill="#000"/>
<rect x="518" y="0" width="1" height="482" fill="#999"/>
<rect x="0" y="481" width="520" height="1" fill="#000"/>
<rect x="0" y="480" width="520" height="1" fill="#999"/>
</svg>
</body></html>
